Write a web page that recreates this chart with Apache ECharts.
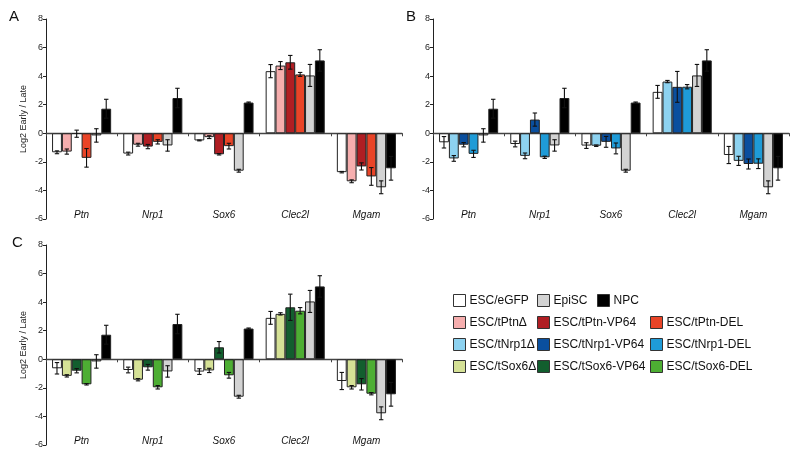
<!DOCTYPE html>
<html><head><meta charset="utf-8">
<script src="https://cdn.jsdelivr.net/npm/echarts@6/dist/echarts.min.js"></script>
<style>html,body{margin:0;padding:0;background:#fff}#c{width:800px;height:459px}</style>
</head><body><div id="c"></div><script>
// ---------- data ----------
const genes = ['Ptn', 'Nrp1', 'Sox6', 'Clec2l', 'Mgam'];
const yMin = -6, yMax = 8, yStep = 2;

const egfpA      = [-1.33, -1.42, -0.50, 4.35, -2.72];
const egfpAErr   = [0.10, 0.10, 0.03, 0.46, 0.05];
const egfpBC     = [-0.63, -0.75, -0.86, 2.90, -1.52];
const egfpBCErr  = [0.40, 0.20, 0.20, 0.45, 0.60];
const episc      = [-0.15, -0.85, -2.62, 4.05, -3.78];
const episcErr   = [0.47, 0.40, 0.10, 0.77, 0.45];
const npc        = [1.72, 2.47, 2.15, 5.10, -2.45];
const npcErr     = [0.66, 0.68, 0.04, 0.75, 0.83];

const ptnDelta   = [-1.28, -0.80, -0.27, 4.74, -3.36];
const ptnDeltaErr= [0.18, 0.10, 0.10, 0.28, 0.10];
const ptnVP64    = [-0.03, -0.93, -1.47, 4.97, -2.32];
const ptnVP64Err = [0.25, 0.15, 0.05, 0.48, 0.25];
const ptnDEL     = [-1.72, -0.60, -0.90, 4.12, -3.02];
const ptnDELErr  = [0.65, 0.15, 0.20, 0.14, 0.62];

const nrp1Delta   = [-1.76, -1.58, -0.87, 3.62, -1.93];
const nrp1DeltaErr= [0.20, 0.20, 0.05, 0.08, 0.32];
const nrp1VP64    = [-0.80, 0.96, -0.60, 3.25, -2.15];
const nrp1VP64Err = [0.15, 0.46, 0.38, 1.08, 0.35];
const nrp1DEL     = [-1.44, -1.68, -1.06, 3.26, -2.13];
const nrp1DELErr  = [0.25, 0.08, 0.38, 0.15, 0.34];

const sox6Delta   = [-1.16, -1.43, -0.78, 3.18, -1.96];
const sox6DeltaErr= [0.08, 0.08, 0.15, 0.08, 0.12];
const sox6VP64    = [-0.80, -0.56, 0.84, 3.64, -1.75];
const sox6VP64Err = [0.15, 0.20, 0.40, 0.92, 0.40];
const sox6DEL     = [-1.75, -1.96, -1.12, 3.40, -2.41];
const sox6DELErr  = [0.05, 0.12, 0.20, 0.22, 0.08];

// ---------- styling ----------
const C = {
  egfp: '#ffffff', episc: '#d3d3d3', npc: '#000000',
  ptnD: '#f6aeae', ptnV: '#b01e23', ptnX: '#e94427',
  nrpD: '#8dd2f0', nrpV: '#0a4f9e', nrpX: '#1f9bd7',
  soxD: '#d5e196', soxV: '#125e2e', soxX: '#4dae33'
};
const FONT = 'Liberation Sans, Arial, Helvetica, sans-serif';
const GAP = 0.17;

const panels = [
  { letter: 'A', grid: {left: 46, top: 19, width: 356, height: 200}, yName: true, lt: [9, 9],
    items: [['ESC/eGFP', egfpA, egfpAErr, C.egfp], ['ESC/tPtnΔ', ptnDelta, ptnDeltaErr, C.ptnD],
            ['ESC/tPtn-VP64', ptnVP64, ptnVP64Err, C.ptnV], ['ESC/tPtn-DEL', ptnDEL, ptnDELErr, C.ptnX],
            ['EpiSC', episc, episcErr, C.episc], ['NPC', npc, npcErr, C.npc]] },
  { letter: 'B', grid: {left: 433, top: 19, width: 356, height: 200}, yName: false, lt: [406, 9],
    items: [['ESC/eGFP', egfpBC, egfpBCErr, C.egfp], ['ESC/tNrp1Δ', nrp1Delta, nrp1DeltaErr, C.nrpD],
            ['ESC/tNrp1-VP64', nrp1VP64, nrp1VP64Err, C.nrpV], ['ESC/tNrp1-DEL', nrp1DEL, nrp1DELErr, C.nrpX],
            ['EpiSC', episc, episcErr, C.episc], ['NPC', npc, npcErr, C.npc]] },
  { letter: 'C', grid: {left: 46, top: 245, width: 356, height: 200}, yName: true, lt: [12, 235],
    items: [['ESC/eGFP', egfpBC, egfpBCErr, C.egfp], ['ESC/tSox6Δ', sox6Delta, sox6DeltaErr, C.soxD],
            ['ESC/tSox6-VP64', sox6VP64, sox6VP64Err, C.soxV], ['ESC/tSox6-DEL', sox6DEL, sox6DELErr, C.soxX],
            ['EpiSC', episc, episcErr, C.episc], ['NPC', npc, npcErr, C.npc]] }
];

function errRender(slot) {
  return function (params, api) {
    const c = api.value(0);
    const lo = api.coord([c, api.value(1)]);
    const hi = api.coord([c, api.value(2)]);
    const band = api.size([1, 0])[0];
    const bw = band * (1 - GAP) / 6;
    const x = lo[0] + (slot - 2.5) * bw;
    const cap = 2.2;
    const st = {stroke: '#111', lineWidth: 1.1};
    return {type: 'group', children: [
      {type: 'line', shape: {x1: x, y1: lo[1], x2: x, y2: hi[1]}, style: st},
      {type: 'line', shape: {x1: x - cap, y1: lo[1], x2: x + cap, y2: lo[1]}, style: st},
      {type: 'line', shape: {x1: x - cap, y1: hi[1], x2: x + cap, y2: hi[1]}, style: st}
    ]};
  };
}

const option = {
  animation: false, backgroundColor: '#fff',
  textStyle: {fontFamily: FONT},
  title: [], grid: [], xAxis: [], yAxis: [], series: [], legend: []
};

panels.forEach((p, pi) => {
  option.title.push({text: p.letter, left: p.lt[0], top: p.lt[1], padding: 0,
    textStyle: {fontSize: 15, fontWeight: 'normal', color: '#111', fontFamily: FONT}});
  option.grid.push(Object.assign({containLabel: false}, p.grid));
  option.xAxis.push({type: 'category', data: genes, gridIndex: pi, position: 'bottom',
    axisLine: {show: false, onZero: false}, axisTick: {show: false},
    axisLabel: {fontStyle: 'italic', fontSize: 10, color: '#111', margin: -9, fontFamily: FONT}});
  option.xAxis.push({type: 'category', data: genes, gridIndex: pi, position: 'bottom',
    axisLine: {show: true, onZero: true, lineStyle: {color: '#444', width: 1.3}},
    axisTick: {show: true, length: 3, lineStyle: {color: '#444'}}, axisLabel: {show: false}});
  option.yAxis.push({type: 'value', gridIndex: pi, min: yMin, max: yMax, interval: yStep,
    name: p.yName ? 'Log2 Early / Late' : '', nameLocation: 'middle', nameGap: 18,
    nameTextStyle: {fontSize: 9, color: '#222', fontFamily: FONT},
    axisLine: {show: true, lineStyle: {color: '#222', width: 1}},
    axisTick: {show: true, length: 3, lineStyle: {color: '#222'}},
    axisLabel: {fontSize: 9, color: '#222', margin: 3, fontFamily: FONT},
    splitLine: {show: false}});
  p.items.forEach((it, k) => {
    option.series.push({type: 'bar', name: it[0], data: it[1], xAxisIndex: pi * 2, yAxisIndex: pi,
      barGap: '0%', barCategoryGap: (GAP * 100) + '%',
      itemStyle: {color: it[3], borderColor: '#222', borderWidth: 1}});
  });
  p.items.forEach((it, k) => {
    option.series.push({type: 'custom', xAxisIndex: pi * 2, yAxisIndex: pi, z: 5,
      renderItem: errRender(k), encode: {x: 0, y: [1, 2]},
      data: it[1].map((v, i) => [i, v - it[2][i], v + it[2][i]])});
  });
});

// legend cells (one per item for exact column alignment)
const legendNames = [
  ['ESC/eGFP', 'EpiSC', 'NPC'],
  ['ESC/tPtnΔ', 'ESC/tPtn-VP64', 'ESC/tPtn-DEL'],
  ['ESC/tNrp1Δ', 'ESC/tNrp1-VP64', 'ESC/tNrp1-DEL'],
  ['ESC/tSox6Δ', 'ESC/tSox6-VP64', 'ESC/tSox6-DEL']
];
const rowTop = [294, 316, 338, 360];
const colLeft = [[453, 537, 597], [453, 537, 650], [453, 537, 650], [453, 537, 650]];
legendNames.forEach((row, r) => row.forEach((nm, c) => {
  option.legend.push({data: [nm], left: colLeft[r][c], top: rowTop[r], padding: 0,
    itemWidth: 12, itemHeight: 12, icon: 'rect', selectedMode: false,
    itemStyle: {borderColor: '#333', borderWidth: 1},
    textStyle: {fontSize: 12, color: '#111', fontFamily: FONT, padding: [0, 0, 0, -1]}});
}));

const chart = echarts.init(document.getElementById('c'), null, {renderer: 'canvas'});
chart.setOption(option);
</script></body></html>
